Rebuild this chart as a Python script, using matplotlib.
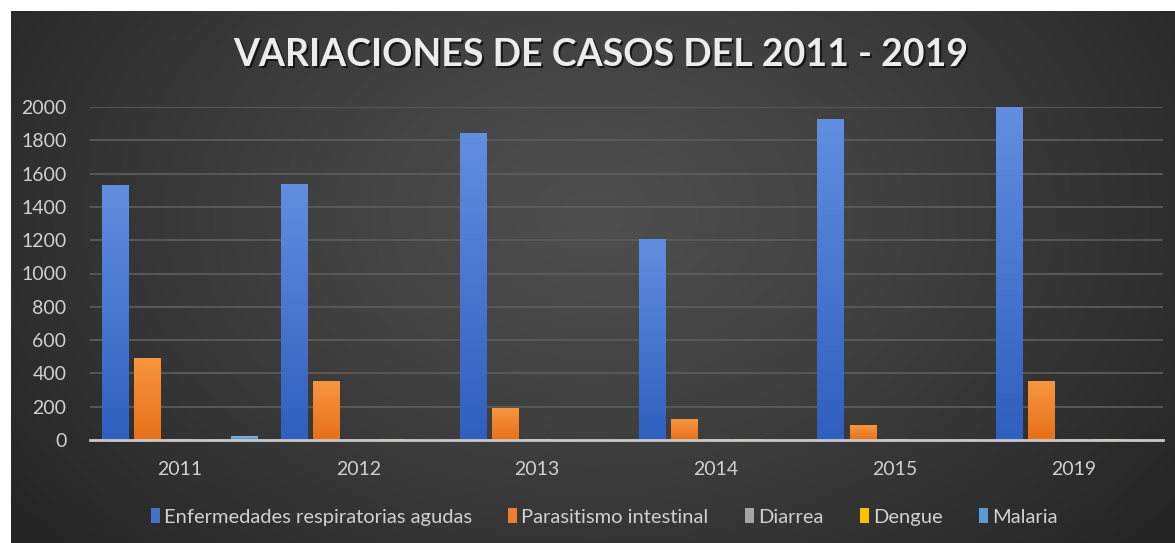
import numpy as np
import matplotlib
matplotlib.use("Agg")
import matplotlib.pyplot as plt
from matplotlib.patches import Patch

years = ["2011", "2012", "2013", "2014", "2015", "2019"]
series_names = ["Enfermedades respiratorias agudas", "Parasitismo intestinal",
                "Diarrea", "Dengue", "Malaria"]
era = [1532, 1540, 1845, 1205, 1925, 2003]
parasitismo = [495, 352, 192, 126, 90, 354]
diarrea = [5, 3, 4, 5, 4, 5]
dengue = [2, 6, 2, 5, 2, 5]
malaria = [22, 2, 1, 2, 3, 2]
yticks = [0, 200, 400, 600, 800, 1000, 1200, 1400, 1600, 1800, 2000]

values = [era, parasitismo, diarrea, dengue, malaria]
top_colors = ["#628ee0", "#f7963f", "#c8c8c8", "#ffd24d", "#7fb6e8"]
bot_colors = ["#2f5fbf", "#e8701a", "#a0a0a0", "#f0b400", "#4f8fcf"]
legend_colors = ["#4472c4", "#ed7d31", "#a5a5a5", "#ffc000", "#5b9bd5"]

plt.rcParams['font.family'] = ['Lato', 'DejaVu Sans']

W, H = 1175, 543
fig = plt.figure(figsize=(W / 100, H / 100), dpi=100)
fig.patch.set_facecolor("white")

# background panel with radial gradient
bg = fig.add_axes([11 / W, 0, 1 - 11 / W, 1 - 11 / H])
bg.set_axis_off()
ny, nx = 300, 600
yy, xx = np.mgrid[0:ny, 0:nx]
cx, cy = nx * 0.5, ny * 0.38
r = np.sqrt(((xx - cx) / (nx * 0.62)) ** 2 + ((yy - cy) / (ny * 0.95)) ** 2)
r = np.clip(r, 0, 1)
c0 = np.array([0x4e, 0x4e, 0x4e]) / 255
c1 = np.array([0x25, 0x25, 0x25]) / 255
img = c0[None, None, :] * (1 - r[..., None] ** 1.2) + c1[None, None, :] * (r[..., None] ** 1.2)
bg.imshow(img, aspect="auto", extent=[0, 1, 0, 1], origin="upper")
bg.set_xlim(0, 1)
bg.set_ylim(0, 1)

ax = fig.add_axes([90 / W, 1 - 440 / H, (1163 - 90) / W, (440 - 107) / H])
ax.set_facecolor("none")

n = len(series_names)
x = np.arange(len(years))
bw = 0.1454
step = 0.18
offsets = (np.arange(n) - (n - 1) / 2) * step

grad = np.linspace(1, 0, 64)[:, None]
for i in range(n):
    bars = ax.bar(x + offsets[i], values[i], width=bw, color=bot_colors[i],
                  zorder=3, linewidth=0)
    cmap = matplotlib.colors.LinearSegmentedColormap.from_list(
        "g%d" % i, [bot_colors[i], top_colors[i]])
    for p in bars.patches:
        x0, y0 = p.get_x(), p.get_y()
        w, h = p.get_width(), p.get_height()
        if h <= 0:
            continue
        im = ax.imshow(grad, cmap=cmap, aspect="auto",
                       extent=[x0, x0 + w, y0, y0 + h], origin="upper",
                       zorder=4, vmin=0, vmax=1)
        im.set_clip_path(p)

ax.set_xlim(-0.5, len(years) - 0.5)
ax.set_ylim(0, 2000)
ax.set_yticks(yticks)
ax.set_xticks(x)
ax.set_xticklabels(years)
ax.tick_params(axis="both", length=0, colors="#d0d0d0", labelsize=14)
ax.tick_params(axis="y", pad=17)
ax.tick_params(axis="x", pad=15)
ax.grid(axis="y", color="#5e5e5e", linewidth=1.2, zorder=0)
for s in ["top", "right", "left"]:
    ax.spines[s].set_visible(False)
ax.spines["bottom"].set_color("#c8c8c8")
ax.spines["bottom"].set_linewidth(2)
ax.spines["bottom"].set_zorder(5)

# title with shadow
tx, ty = 601 / W, 1 - 55 / H
title = "VARIACIONES DE CASOS DEL 2011 - 2019"
fig.text(tx + 2 / W, ty - 2 / H, title, ha="center", va="center",
         fontsize=27, fontweight="bold", color="#161616")
fig.text(tx, ty, title, ha="center", va="center",
         fontsize=27, fontweight="bold", color="#ececec")

handles = [Patch(facecolor=c, edgecolor="none") for c in legend_colors]
leg = fig.legend(handles, series_names, loc="center", ncol=5,
                 bbox_to_anchor=(604 / W, 1 - 517 / H), frameon=False,
                 fontsize=14.5, handlelength=0.45, handleheight=0.75,
                 handletextpad=0.2, columnspacing=1.8, labelcolor="#d0d0d0")

fig.savefig("out.png", dpi=100, facecolor=fig.get_facecolor())
